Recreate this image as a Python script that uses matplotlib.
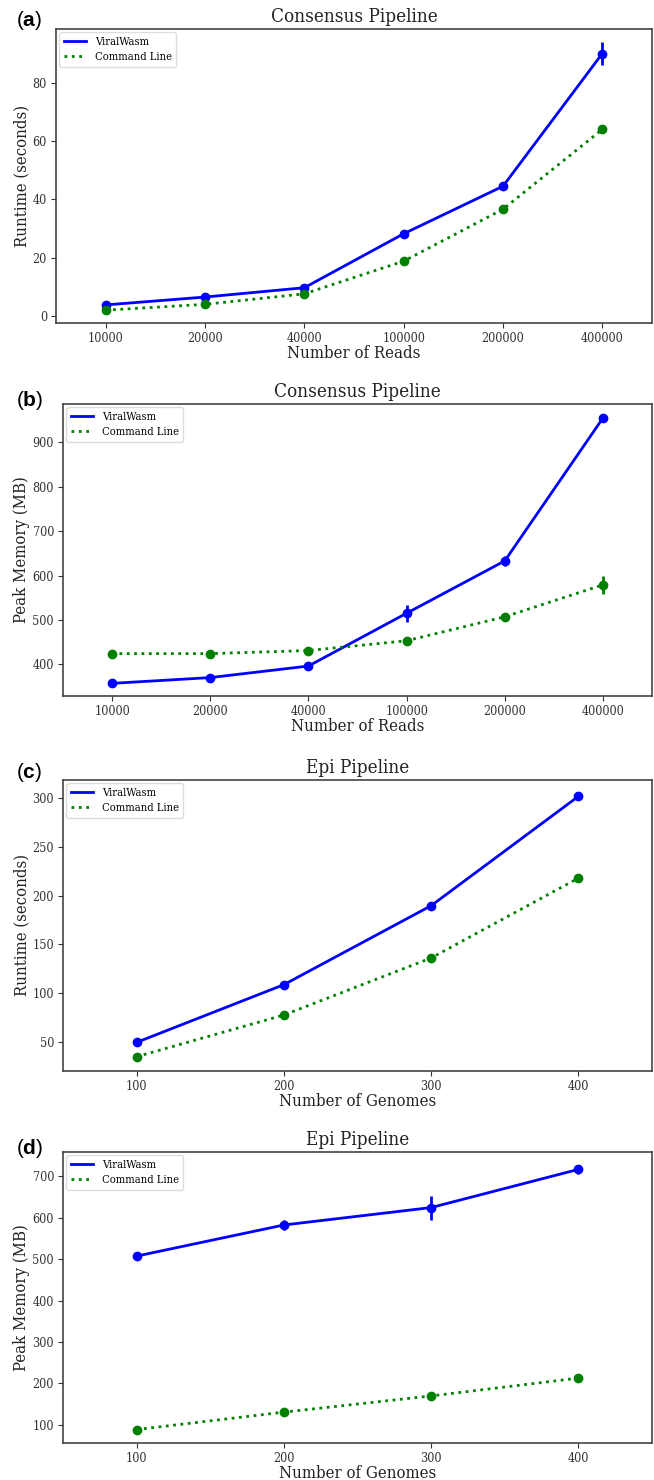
import matplotlib
matplotlib.use("Agg")
import matplotlib.pyplot as plt
from matplotlib.lines import Line2D
import numpy as np

# ---- data ----
reads_labels = ["10000", "20000", "40000", "100000", "200000", "400000"]
genome_labels = ["100", "200", "300", "400"]

a_wasm = [3.8, 6.5, 9.7, 28.2, 44.5, 90.0]
a_wasm_err = [0.5, 0.6, 0.6, 0.8, 1.0, 4.0]
a_cli = [2.0, 4.0, 7.6, 18.8, 36.6, 64.0]
a_cli_err = [0.3, 0.3, 0.4, 0.6, 0.8, 0.8]

b_wasm = [357, 370, 396, 515, 633, 955]
b_wasm_err = [3, 3, 4, 19, 12, 5]
b_cli = [424, 424, 431, 453, 507, 579]
b_cli_err = [3, 3, 3, 4, 4, 20]

c_wasm = [49.3, 108.6, 189.7, 302.0]
c_wasm_err = [1.0, 1.5, 4.0, 2.5]
c_cli = [34.6, 77.4, 136.0, 218.0]
c_cli_err = [1.0, 1.2, 2.5, 3.5]

d_wasm = [507, 582, 624, 716]
d_wasm_err = [4, 12, 29, 11]
d_cli = [89, 131, 170, 213]
d_cli_err = [2, 2, 2, 2]

panels = [
    ("a", "Consensus Pipeline", "Number of Reads", "Runtime (seconds)", reads_labels,
     a_wasm, a_wasm_err, a_cli, a_cli_err, (-2.4, 98.4), [0, 20, 40, 60, 80]),
    ("b", "Consensus Pipeline", "Number of Reads", "Peak Memory (MB)", reads_labels,
     b_wasm, b_wasm_err, b_cli, b_cli_err, (328.5, 986.6), [400, 500, 600, 700, 800, 900]),
    ("c", "Epi Pipeline", "Number of Genomes", "Runtime (seconds)", genome_labels,
     c_wasm, c_wasm_err, c_cli, c_cli_err, (19.9, 318.8), [50, 100, 150, 200, 250, 300]),
    ("d", "Epi Pipeline", "Number of Genomes", "Peak Memory (MB)", genome_labels,
     d_wasm, d_wasm_err, d_cli, d_cli_err, (56.6, 757.9), [100, 200, 300, 400, 500, 600, 700]),
]

plt.rcParams['font.family'] = ['DejaVu Serif']
plt.rcParams['font.stretch'] = 'condensed'
plt.rcParams['mathtext.fontset'] = 'custom'
plt.rcParams['mathtext.bf'] = 'Liberation Sans:bold'
plt.rcParams['mathtext.rm'] = 'Liberation Sans'

W, H = 654, 1480
fig = plt.figure(figsize=(W / 100, H / 100), dpi=100)

# (left, top, right, bottom) in pixels
boxes = [(56, 29, 652, 323), (63, 404, 652, 696), (63, 780, 652, 1071), (63, 1152, 652, 1443)]
label_y = [21, 400, 772, 1148]

for (lab, title, xlabel, ylabel, xt, w, we, c, ce, ylim, yt), (l, top, r, bot), ly in zip(panels, boxes, label_y):
    ax = fig.add_axes([l / W, 1 - bot / H, (r - l) / W, (bot - top) / H])
    x = np.arange(len(xt))
    ax.errorbar(x, w, yerr=we, color="blue", marker="o", ms=6, lw=2, ls="-",
                elinewidth=2, capsize=0)
    ax.errorbar(x, c, yerr=ce, color="green", marker="o", ms=6, lw=2, ls=":",
                elinewidth=2, capsize=0)
    ax.set_xlim(-0.5, len(xt) - 0.5)
    ax.set_ylim(*ylim)
    ax.set_xticks(x)
    ax.set_xticklabels(xt)
    ax.set_yticks(yt)
    ax.tick_params(labelsize=9, colors="#333333", length=3.5, pad=3)
    ax.set_title(title, fontsize=13.5, color="#222222", pad=5)
    ax.set_xlabel(xlabel, fontsize=12, color="#222222", labelpad=0)
    ax.set_ylabel(ylabel, fontsize=12, color="#222222")
    ax.yaxis.set_label_coords((30 - l) / (r - l), 0.5)
    for s in ax.spines.values():
        s.set_color("#444444")
        s.set_linewidth(1.2)
    handles = [Line2D([], [], color="blue", lw=2, ls="-"),
               Line2D([], [], color="green", lw=2, ls=":")]
    ax.legend(handles, ["ViralWasm", "Command Line"], loc="upper left", fontsize=8,
              handlelength=2, borderaxespad=0.3, framealpha=1, edgecolor="#dddddd")
    fig.text(16 / W, 1 - ly / H, "(" + r"$\mathbf{" + lab + "}$" + ")", fontsize=15,
             family="Liberation Sans", va="center", ha="left")

fig.savefig("out.png", dpi=100)
